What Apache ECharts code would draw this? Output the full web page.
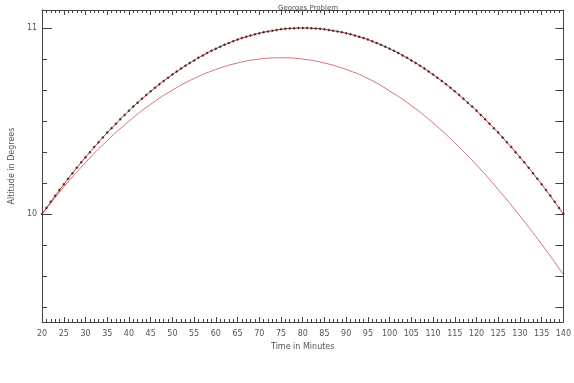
<!DOCTYPE html>
<html>
<head>
<meta charset="utf-8">
<script src="https://cdn.jsdelivr.net/npm/echarts@6/dist/echarts.min.js"></script>
<style>html,body{margin:0;padding:0;background:#fff;}#c{width:574px;height:383px;}</style>
</head>
<body>
<div id="c"></div>
<script>
var chartTitle = "Georges Problem";
var xName = "Time in Minutes";
var yName = "Altitude in Degrees";

var minutes = [20,21,22,23,24,25,26,27,28,29,30,31,32,33,34,35,36,37,38,39,40,41,42,43,44,45,46,47,48,49,50,51,52,53,54,55,56,57,58,59,60,61,62,63,64,65,66,67,68,69,70,71,72,73,74,75,76,77,78,79,80,81,82,83,84,85,86,87,88,89,90,91,92,93,94,95,96,97,98,99,100,101,102,103,104,105,106,107,108,109,110,111,112,113,114,115,116,117,118,119,120,121,122,123,124,125,126,127,128,129,130,131,132,133,134,135,136,137,138,139,140];
var altitudeA = [10.000,10.033,10.066,10.098,10.129,10.160,10.190,10.220,10.249,10.278,10.306,10.333,10.360,10.386,10.412,10.438,10.462,10.486,10.510,10.533,10.556,10.578,10.599,10.620,10.640,10.660,10.679,10.698,10.716,10.733,10.750,10.766,10.782,10.798,10.812,10.826,10.840,10.853,10.866,10.878,10.889,10.900,10.910,10.920,10.929,10.938,10.946,10.953,10.960,10.966,10.972,10.978,10.982,10.986,10.990,10.993,10.996,10.998,10.999,11.000,11.000,11.000,10.999,10.998,10.996,10.993,10.990,10.986,10.982,10.978,10.972,10.966,10.960,10.953,10.946,10.938,10.929,10.920,10.910,10.900,10.889,10.878,10.866,10.853,10.840,10.826,10.812,10.798,10.782,10.766,10.750,10.733,10.716,10.698,10.679,10.660,10.640,10.620,10.599,10.578,10.556,10.533,10.510,10.486,10.462,10.438,10.412,10.386,10.360,10.333,10.306,10.278,10.249,10.220,10.190,10.160,10.129,10.098,10.066,10.033,10.000];

var minutesB = [20,25,30,35,40,45,50,55,60,65,70,75,80,85,90,95,100,105,110,115,120,125,130,135,140];
var altitudeB = [10.000,10.145,10.277,10.395,10.499,10.590,10.666,10.729,10.777,10.812,10.833,10.840,10.833,10.812,10.777,10.729,10.662,10.583,10.490,10.383,10.264,10.132,9.990,9.838,9.675];

var yMajorTicks = [10, 11];
var yMinorTicks = [9.5, 9.6667, 9.8333, 10.1667, 10.3333, 10.5, 10.6667, 10.8333];
var yAllTicks = [9.5, 9.6667, 9.8333, 10, 10.1667, 10.3333, 10.5, 10.6667, 10.8333, 11];

var dataA = minutes.map(function (m, i) { return [m, altitudeA[i]]; });
var dataB = minutesB.map(function (m, i) { return [m, altitudeB[i]]; });

var axisCol = '#444';
var font = 'DejaVu Sans';
var yMin = 9.42, yMax = 11.097;

var chart = echarts.init(document.getElementById('c'), null, {renderer: 'canvas'});
chart.setOption({
  animation: false,
  backgroundColor: '#fff',
  title: {
    text: chartTitle, left: 303, top: 0, textAlign: 'center',
    textStyle: {fontSize: 7, fontWeight: 'normal', color: '#555', fontFamily: font}
  },
  grid: {left: 40, right: 8, top: 10, bottom: 61},
  xAxis: [{
    type: 'value', min: 20, max: 140, interval: 5, position: 'bottom',
    name: xName, nameLocation: 'middle', nameGap: 19,
    nameTextStyle: {fontSize: 8, color: '#555', fontFamily: font},
    axisLine: {lineStyle: {color: axisCol, width: 1}},
    axisTick: {inside: true, length: 5, lineStyle: {color: axisCol}},
    minorTick: {show: true, splitNumber: 5, length: 3, lineStyle: {color: axisCol}},
    axisLabel: {fontSize: 8, color: '#555', margin: 8, fontFamily: font},
    splitLine: {show: false}
  }, {
    type: 'value', min: 20, max: 140, interval: 5, position: 'top',
    axisLine: {lineStyle: {color: axisCol, width: 1}},
    axisTick: {inside: true, length: 5, lineStyle: {color: axisCol}},
    minorTick: {show: true, splitNumber: 5, length: 3, lineStyle: {color: axisCol}},
    axisLabel: {show: false},
    splitLine: {show: false}
  }],
  yAxis: [{
    type: 'value', min: yMin, max: yMax, position: 'left',
    name: yName, nameLocation: 'middle', nameGap: 19,
    nameTextStyle: {fontSize: 8, color: '#555', fontFamily: font},
    axisLine: {lineStyle: {color: axisCol, width: 1}},
    axisTick: {inside: true, length: 10, customValues: yMajorTicks, lineStyle: {color: axisCol}},
    axisLabel: {fontSize: 8, color: '#555', margin: 5, customValues: yMajorTicks, fontFamily: font},
    splitLine: {show: false}
  }, {
    type: 'value', min: yMin, max: yMax, position: 'left', offset: 0,
    axisLine: {show: false},
    axisTick: {inside: true, length: 5, customValues: yMinorTicks, lineStyle: {color: axisCol}},
    axisLabel: {show: false},
    splitLine: {show: false}
  }, {
    type: 'value', min: yMin, max: yMax, position: 'right',
    axisLine: {show: true, lineStyle: {color: axisCol, width: 1}},
    axisTick: {show: true, inside: true, length: 8, customValues: yAllTicks, lineStyle: {color: axisCol}},
    axisLabel: {show: false},
    splitLine: {show: false}
  }],
  series: [{
    type: 'line', xAxisIndex: 0, yAxisIndex: 0, data: dataB, smooth: true,
    symbol: 'none', lineStyle: {color: '#d87070', width: 1}
  }, {
    type: 'line', xAxisIndex: 0, yAxisIndex: 0, data: dataA,
    symbol: 'diamond', symbolSize: 3, showSymbol: true,
    itemStyle: {color: '#4a2a2a'},
    lineStyle: {color: '#c83838', width: 1}
  }]
});
</script>
</body>
</html>
